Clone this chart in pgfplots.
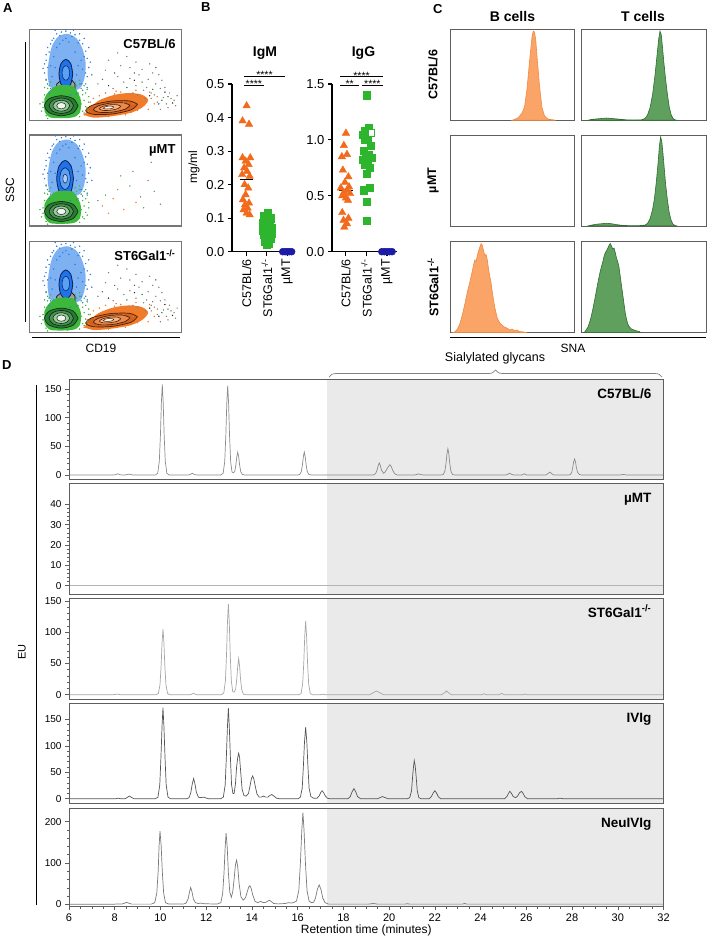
\documentclass[border=0pt]{standalone}
\usepackage{fontspec}
\setmainfont{Liberation Sans}
\usepackage{pgfplots}
\pgfplotsset{compat=1.18}
\usetikzlibrary{decorations.pathreplacing}
\newcommand{\fs}[1]{\fontsize{#1}{#1}\selectfont}
\definecolor{shade}{HTML}{EBEAEB}
\definecolor{frame}{HTML}{5E5E5E}
\definecolor{orgM}{HTML}{F26B1D}
\definecolor{grnM}{HTML}{2DB52D}
\definecolor{bluM}{HTML}{1B1BA8}
\definecolor{histO}{HTML}{FBA468}
\definecolor{histOd}{HTML}{F08A40}
\definecolor{histG}{HTML}{5FA05F}
\definecolor{histGd}{HTML}{2F6A2F}
\definecolor{cA}{HTML}{8C8C8C}
\definecolor{cB}{HTML}{B4B4B4}
\definecolor{cC}{HTML}{A6A6A6}
\definecolor{cD}{HTML}{555555}
\definecolor{cE}{HTML}{7A7A7A}
\definecolor{grnF}{HTML}{3DB83D}
\definecolor{grnC1}{HTML}{2A7A35}
\definecolor{grnC2}{HTML}{4A9452}
\definecolor{grnC3}{HTML}{9CC8A2}
\definecolor{grnC4}{HTML}{EEF6EE}
\definecolor{grnD}{HTML}{0E2E12}
\definecolor{orgF}{HTML}{F07B2B}
\definecolor{orgC1}{HTML}{D2621E}
\definecolor{orgC2}{HTML}{E98A4A}
\definecolor{orgC3}{HTML}{F5B585}
\definecolor{orgC4}{HTML}{FFF3E8}
\definecolor{orgD}{HTML}{4A2008}
\definecolor{bluF}{HTML}{7DB1F1}
\definecolor{bluDot}{HTML}{2D7DE6}
\definecolor{bluCore}{HTML}{1E72EA}
\definecolor{bluIn}{HTML}{5AA0F4}
\definecolor{bluD}{HTML}{0A1F55}
\tikzset{boxlbl/.style={anchor=base east, inner sep=0pt, xshift=-6pt, yshift=-19pt, font=\bfseries\fs{13}}}
\pgfplotsset{
  /pgf/number format/assume math mode=true,
  chrom/.style={scale only axis, anchor=north west, width=594.5pt, xmin=6, xmax=32,
    axis on top, axis line style={draw=frame, line width=1pt},
    tick style={draw=frame, line width=0.5pt}, tick align=outside, ytick pos=left,
    xtick=\empty, major tick length=4pt, minor tick length=2.5pt, minor y tick num=4,
    yticklabel style={font=\fs{10}}},
  hist/.style={scale only axis, anchor=north west, width=124.3pt, height=91pt,
    xmin=0, xmax=100, ymin=0, ymax=100, ticks=none,
    axis line style={draw=frame, line width=0.8pt}},
  flow/.style={scale only axis, anchor=north west, width=152.4pt, height=91pt,
    xmin=0, xmax=100, ymin=0, ymax=100, ticks=none, axis on top,
    axis line style={draw=frame!85, line width=1.2pt}},
  dot/.style={scale only axis, anchor=south west, clip=false, height=167.7pt,
    axis x line=bottom, axis y line=left, axis line style={-, line width=1.3pt},
    tick style={black, line width=1.1pt}, tick align=outside, major tick length=4pt,
    xtick={1,2,3}, xticklabels={C57BL/6, ST6Gal1\textsuperscript{-/-}, µMT},
    xticklabel style={rotate=90, anchor=east, font=\fs{12.5}},
    yticklabel style={font=\fs{13}, /pgf/number format/.cd, fixed, fixed zerofill, precision=1}},
}
% ---------- flow cytometry building blocks ----------
\newcommand{\blueCloud}{%
  \addplot[fill=bluF, draw=none, smooth] coordinates {(13,38)(12,52)(13,68)(15,82)(19,92)(25,95)(31,90)(35,78)(37,62)(36,45)(33,35)(25,31)(17,33)(13,38)};
  \addplot[only marks, mark=*, mark size=0.5pt, color=bluDot] coordinates {(11,45)(12,58)(11,66)(13,75)(14,84)(16,90)(18,95)(21,97)(24,98)(27,96)(30,94)(33,88)(35,84)(37,76)(38,68)(39,58)(38,48)(37,40)(35,33)(31,29)(27,28)(14,35)(12,40)(10,52)(10,62)(12,80)(15,88)(20,93)(28,92)(32,85)(36,70)(37,52)(34,40)(16,70)(18,80)(30,75)(32,60)(14,60)(26,86)(22,88)(40,64)(39,80)(9,57)(17,99)(29,99)(33,95)(41,50)(36,90)(13,30)(38,36)(15,48)(17,58)(31,50)(34,66)(20,84)(24,90)(35,56)(11,72)};
}
\newcommand{\grayStem}{%
  \addplot[fill=gray!75, draw=black, line width=0.6pt] coordinates {(18,20)(18,40)(21,44)(28,44)(30,40)(30,20)};
}
\newcommand{\greenCluster}{%
  \addplot[only marks, mark=*, mark size=0.5pt, color=grnF] coordinates {(8,10)(9,20)(10,28)(11,5)(12,35)(13,38)(14,42)(31,38)(32,30)(33,25)(34,35)(34,18)(35,10)(35,28)(36,22)(36,8)(37,15)(37,30)(38,12)(9,14)(10,36)(30,42)(33,44)(12,2)(25,3)(33,4)(16,36)(33,40)(36,38)(11,44)(39,20)(7,18)(39,26)(38,34)};
  \addplot[fill=grnF, draw=none, smooth] coordinates {(10,10)(10,24)(13,32)(18,38)(28,38)(32,30)(34,20)(33,8)(28,3)(14,3)(10,10)};
  \addplot[fill=grnC1, draw=grnD, line width=0.7pt, smooth] coordinates {(32,16)(28.8,23.8)(21,27)(13.2,23.8)(10,16)(13.2,8.2)(21,5)(28.8,8.2)(32,16)};
  \addplot[fill=grnC2, draw=grnD, line width=0.7pt, smooth] coordinates {(29,16)(26.7,22)(21,24.5)(15.3,22)(13,16)(15.3,10)(21,7.5)(26.7,10)(29,16)};
  \addplot[fill=grnC3, draw=grnD, line width=0.6pt, smooth] coordinates {(26.5,16)(24.9,20.2)(21,22)(17.1,20.2)(15.5,16)(17.1,11.8)(21,10)(24.9,11.8)(26.5,16)};
  \addplot[fill=grnC4, draw=grnD, line width=0.5pt, smooth] coordinates {(24,16)(23.1,18.5)(21,19.5)(18.9,18.5)(18,16)(18.9,13.5)(21,12.5)(23.1,13.5)(24,16)};
}
\newcommand{\orangeCluster}{%
  \addplot[fill=orgF, draw=none, smooth] coordinates {(36,6)(40,14)(46,22)(56,28)(66,30)(74,28)(78,22)(74,14)(66,8)(52,4)(42,3)(36,6)};
  \addplot[only marks, mark=*, mark size=0.5pt, color=orgF] coordinates {(36,6)(38,14)(40,20)(42,24)(44,5)(46,27)(48,22)(50,30)(52,4)(54,26)(56,29)(58,24)(60,31)(62,20)(64,27)(66,25)(68,18)(70,22)(72,28)(74,16)(76,20)(78,12)(80,24)(39,10)(43,16)(63,6)(67,9)(71,11)(75,26)(57,32)(82,18)(84,26)(79,31)(70,33)};
  \addplot[fill=orgC1, draw=orgD, line width=0.7pt, smooth] coordinates {(71,17.6)(65.7,21.3)(53.3,21)(41.2,16.5)(37,10.4)(42.3,6.5)(54.7,7)(66.8,11.5)(71,17.6)};
  \addplot[fill=orgC2, draw=orgD, line width=0.7pt, smooth] coordinates {(66,16.4)(62.1,19.2)(53.5,19)(45.2,15.8)(42,11.6)(45.9,8.8)(54.5,9)(62.9,12.2)(66,16.4)};
  \addplot[fill=orgC3, draw=orgD, line width=0.6pt, smooth] coordinates {(60,15.4)(57.7,17.1)(52.7,17)(47.9,15.1)(46,12.6)(48.3,10.9)(53.3,11)(58.2,12.9)(60,15.4)};
  \addplot[fill=orgC4, draw=orgD, line width=0.5pt, smooth] coordinates {(55.5,14.7)(54.4,15.4)(51.8,15.5)(49.5,14.6)(48.5,13.3)(49.6,12.6)(52.2,12.5)(54.6,13.3)(55.5,14.7)};
}
\newcommand{\sparseDots}{%
  \addplot[only marks, mark=*, mark size=0.45pt, color=gray] coordinates {(45,40)(50,55)(55,35)(58,48)(62,42)(66,58)(70,38)(72,50)(75,33)(78,45)(80,30)(82,28)(84,20)(86,35)(88,25)(90,18)(92,30)(95,22)(60,60)(85,50)(68,30)(77,36)(83,40)(97,27)(64,70)(70,64)(74,56)(79,62)(81,52)(87,44)(89,36)(91,14)(93,24)(96,16)(76,24)(86,12)(52,66)(58,74)(66,46)(71,28)};
  \addplot[only marks, mark=*, mark size=0.45pt, color=grnF!70!black] coordinates {(48,45)(64,36)(74,42)(81,34)(87,22)(91,26)(56,52)(69,52)(83,58)};
  \addplot[only marks, mark=*, mark size=0.45pt, color=orgD] coordinates {(52,38)(69,44)(79,27)(89,31)(94,19)(85,18)};
}
\begin{document}
\begin{tikzpicture}
\path[use as bounding box] (0,0) rectangle (708pt,-941pt);
% panel letters
\node[anchor=north west, inner sep=0, font=\bfseries\fs{13}] at (3pt,-3pt) {A};
\node[anchor=north west, inner sep=0, font=\bfseries\fs{13}] at (201pt,-2pt) {B};
\node[anchor=north west, inner sep=0, font=\bfseries\fs{13}] at (433pt,-4pt) {C};
\node[anchor=north west, inner sep=0, font=\bfseries\fs{13}] at (2pt,-360pt) {D};

% ================= Panel A =================
\begin{axis}[flow, at={(29.3pt,-29.3pt)}]
  \blueCloud
  \grayStem
  \addplot[fill=bluCore, draw=bluD, line width=0.8pt, smooth] coordinates {(28.5,51)(27.2,62.3)(24,67)(20.8,62.3)(19.5,51)(20.8,39.7)(24,35)(27.2,39.7)(28.5,51)};
  \addplot[fill=bluIn, draw=bluD, line width=0.5pt, smooth] coordinates {(26.5,52)(25.8,57.7)(24,60)(22.2,57.7)(21.5,52)(22.2,46.3)(24,44)(25.8,46.3)(26.5,52)};
  \greenCluster
  \sparseDots
  \orangeCluster
  \node[boxlbl] at (rel axis cs:1,1) {C57BL/6};
\end{axis}
\begin{axis}[flow, at={(29.3pt,-135pt)}]
  \blueCloud
  \addplot[fill=grnF, draw=black, line width=0.5pt] coordinates {(19,20)(19,36)(28,36)(28,20)};
  \addplot[fill=bluCore, draw=bluD, line width=0.8pt, smooth] coordinates {(29,52)(27.4,66.1)(23.5,72)(19.6,66.1)(18,52)(19.6,37.9)(23.5,32)(27.4,37.9)(29,52)};
  \addplot[fill=bluIn, draw=bluD, line width=0.6pt, smooth] coordinates {(27,52)(26,60.5)(23.5,64)(21,60.5)(20,52)(21,43.5)(23.5,40)(26,43.5)(27,52)};
  \addplot[fill=bluIn!50!white, draw=bluD, line width=0.5pt, smooth] coordinates {(25,52)(24.6,55.5)(23.5,57)(22.4,55.5)(22,52)(22.4,48.5)(23.5,47)(24.6,48.5)(25,52)};
  \greenCluster
  \addplot[only marks, mark=*, mark size=0.45pt, color=orgF] coordinates {(48,22)(55,30)(62,18)(70,26)(58,40)(52,14)};
  \addplot[only marks, mark=*, mark size=0.45pt, color=grnF] coordinates {(50,34)(66,44)(75,20)(82,38)(60,55)};
  \addplot[only marks, mark=*, mark size=0.45pt, color=gray] coordinates {(45,28)(73,32)(86,24)(78,50)(80,70)(68,60)};
  \node[boxlbl] at (rel axis cs:1,1) {µMT};
\end{axis}
\begin{axis}[flow, at={(29.3pt,-241.7pt)}]
  \blueCloud
  \grayStem
  \addplot[fill=bluCore, draw=bluD, line width=0.8pt, smooth] coordinates {(28.5,53)(27.2,64.3)(24,69)(20.8,64.3)(19.5,53)(20.8,41.7)(24,37)(27.2,41.7)(28.5,53)};
  \addplot[fill=bluIn, draw=bluD, line width=0.5pt, smooth] coordinates {(26.5,54)(25.8,59.7)(24,62)(22.2,59.7)(21.5,54)(22.2,48.3)(24,46)(25.8,48.3)(26.5,54)};
  \greenCluster
  \sparseDots
  \orangeCluster
  \node[boxlbl] at (rel axis cs:1,1) {ST6Gal1\textsuperscript{-/-}};
\end{axis}
\draw[line width=1pt] (25pt,-42pt) -- (25pt,-322pt);
\node[rotate=90, font=\fs{12}] at (10pt,-190pt) {SSC};
\draw[line width=1pt] (32pt,-337pt) -- (180pt,-337pt);
\node[font=\fs{12}] at (101pt,-348pt) {CD19};

% ================= Panel B =================
\begin{axis}[dot, at={(232pt,-251.7pt)}, width=63.3pt, xmin=0.28, xmax=3.4,
  ymin=0, ymax=0.5, ytick={0,0.1,0.2,0.3,0.4,0.5}]
  \addplot[only marks, mark=triangle*, mark size=4.3pt, color=orgM] coordinates {(1.0,0.435)(0.8,0.39)(1.12,0.38)(0.8,0.28)(1.18,0.28)(0.95,0.27)(1.1,0.26)(0.88,0.25)(1.02,0.24)(0.78,0.23)(1.15,0.225)(0.9,0.2)(1.08,0.19)(0.95,0.17)(0.82,0.155)(1.12,0.145)(0.92,0.14)(1.05,0.13)(0.85,0.125)(1.0,0.115)(1.15,0.11)};
  \addplot[only marks, mark=square*, mark size=3.6pt, color=grnM] coordinates {(2.05,0.115)(1.85,0.108)(2.2,0.1)(1.95,0.095)(2.15,0.09)(1.8,0.085)(2.05,0.08)(1.9,0.075)(2.25,0.072)(2.0,0.068)(1.82,0.063)(2.12,0.06)(1.95,0.057)(2.25,0.055)(1.85,0.05)(2.05,0.048)(1.9,0.045)(2.18,0.04)(2.0,0.035)(1.88,0.03)(2.1,0.025)(1.98,0.02)};
  \addplot[only marks, mark=*, mark size=3.5pt, color=bluM] coordinates {(2.78,0)(2.9,0)(3.0,0)(3.1,0)(3.22,0)};
  \addplot[black, line width=1.3pt] coordinates {(0.68,0.215)(1.32,0.215)};
  \addplot[black, line width=1.3pt] coordinates {(1.68,0.055)(2.32,0.055)};
  \draw[line width=1pt] (axis cs:0.87,0.522) -- (axis cs:2.89,0.522);
  \draw[line width=1pt] (axis cs:0.87,0.496) -- (axis cs:1.85,0.496);
  \node[anchor=base, inner sep=0, font=\fs{10.5}, yshift=-2.3pt] at (axis cs:1.88,0.522) {****};
  \node[anchor=base, inner sep=0, font=\fs{10.5}, yshift=-2.3pt] at (axis cs:1.36,0.496) {****};
\end{axis}
\node[font=\bfseries\fs{14}] at (265pt,-53pt) {IgM};
\node[rotate=90, font=\fs{12}] at (194pt,-167pt) {mg/ml};
\begin{axis}[dot, at={(332pt,-251.7pt)}, width=65.2pt, xmin=0.32, xmax=3.5,
  ymin=0, ymax=1.5, ytick={0,0.5,1,1.5}]
  \addplot[only marks, mark=triangle*, mark size=4.3pt, color=orgM] coordinates {(1.0,1.06)(0.9,0.95)(1.05,0.87)(0.8,0.85)(0.85,0.73)(1.12,0.67)(0.95,0.62)(1.15,0.58)(0.75,0.57)(1.05,0.55)(0.9,0.53)(1.2,0.52)(0.82,0.5)(1.0,0.48)(1.1,0.46)(0.82,0.35)(1.12,0.3)(0.88,0.28)(1.05,0.25)(0.92,0.22)};
  \addplot[only marks, mark=square*, mark size=3.6pt, color=grnM] coordinates {(2.0,1.4)(2.1,1.11)(1.9,1.08)(1.8,1.05)(2.05,1.02)(1.92,1.0)(2.2,0.95)(1.85,0.9)(2.1,0.87)(1.95,0.85)(2.25,0.84)(1.8,0.82)(2.05,0.8)(1.9,0.78)(2.15,0.75)(2.0,0.7)(2.15,0.57)(1.85,0.55)(2.0,0.45)(2.0,0.28)};
  \addplot[only marks, mark=square*, mark size=3.2pt, draw=grnM, fill=white, line width=1pt] coordinates {(2.25,1.06)};
  \addplot[only marks, mark=*, mark size=3.5pt, color=bluM] coordinates {(2.75,0)(2.87,0)(3.0,0)(3.12,0)(3.25,0)};
  \addplot[black, line width=1.3pt] coordinates {(0.68,0.545)(1.32,0.545)};
  \addplot[black, line width=1.3pt] coordinates {(1.68,0.85)(2.32,0.85)};
  \draw[line width=1pt] (axis cs:0.72,1.565) -- (axis cs:2.8,1.565);
  \draw[line width=1pt] (axis cs:0.72,1.49) -- (axis cs:1.65,1.49);
  \draw[line width=1pt] (axis cs:1.78,1.49) -- (axis cs:2.8,1.49);
  \node[anchor=base, inner sep=0, font=\fs{10.5}, yshift=-2.3pt] at (axis cs:1.76,1.565) {****};
  \node[anchor=base, inner sep=0, font=\fs{10.5}, yshift=-2.3pt] at (axis cs:1.18,1.49) {**};
  \node[anchor=base, inner sep=0, font=\fs{10.5}, yshift=-2.3pt] at (axis cs:2.29,1.49) {****};
\end{axis}
\node[font=\bfseries\fs{14}] at (363.5pt,-53pt) {IgG};

% ================= Panel C =================
\node[font=\bfseries\fs{14}] at (512.5pt,-16pt) {B cells};
\node[font=\bfseries\fs{14}] at (643pt,-16pt) {T cells};
\node[rotate=90, font=\bfseries\fs{12.5}] at (433pt,-74.7pt) {C57BL/6};
\node[rotate=90, font=\bfseries\fs{12.5}] at (433pt,-180.5pt) {µMT};
\node[rotate=90, font=\bfseries\fs{12.5}] at (433pt,-287.5pt) {ST6Gal1\textsuperscript{-/-}};
\begin{axis}[hist, at={(450pt,-29.3pt)}]
  \addplot[fill=histO, draw=histOd, line width=0.6pt] coordinates {(50,0)(52,1)(55,3)(58,8)(60,15)(62,35)(64,65)(66,92)(67,98)(68,97)(69,88)(70,70)(72,38)(74,14)(76,5)(78,2)(80,1)(83,0.5)(85,0)} \closedcycle;
\end{axis}
\begin{axis}[hist, at={(581.7pt,-29.3pt)}]
  \addplot[fill=histG, draw=histGd, line width=0.6pt] coordinates {(5,0)(8,1)(12,1.5)(16,2)(20,2.5)(24,2)(28,1.5)(32,1)(36,0.5)(42,0.3)(48,0.5)(51,2)(53,6)(55,14)(57,28)(59,50)(60.5,70)(62,90)(63,98)(64,94)(65,80)(66,65)(67.5,45)(69,28)(70.5,14)(72,6)(73.5,2)(75,0.5)(77,0)} \closedcycle;
\end{axis}
\begin{axis}[hist, at={(450pt,-135pt)}]
  \addplot[draw=none] coordinates {(0,0)(100,0)};
\end{axis}
\begin{axis}[hist, at={(581.7pt,-135pt)}]
  \addplot[fill=histG, draw=histGd, line width=0.6pt] coordinates {(5,0)(8,1)(12,2)(16,2.5)(20,3)(24,2.5)(28,1.5)(32,0.8)(38,0.4)(46,0.4)(51,1)(53,3)(55,8)(57,18)(58.5,30)(60,48)(61.5,70)(62.5,88)(63.5,98)(64.5,92)(65.5,78)(66.5,62)(67.5,46)(69,28)(70.5,14)(72,6)(73.5,2)(75,0.5)(77,0)} \closedcycle;
\end{axis}
\begin{axis}[hist, at={(450pt,-241.7pt)}]
  \addplot[fill=histO, draw=histOd, line width=0.6pt] coordinates {(2,0)(4,1)(6,4)(8,10)(10,20)(12,32)(14,45)(16,56)(18,68)(19,75)(20,80)(21,78)(22,85)(23,90)(24,94)(25,98)(26,96)(27,90)(28,85)(29,86)(30,80)(31,70)(32,62)(33,55)(34,45)(35,36)(36,28)(37,22)(38,16)(40,11)(42,8)(44,6)(46,5)(48,3)(50,4)(52,2)(54,3)(56,1)(58,1)(60,0.5)(62,0)} \closedcycle;
\end{axis}
\begin{axis}[hist, at={(581.7pt,-241.7pt)}]
  \addplot[fill=histG, draw=histGd, line width=0.6pt] coordinates {(2,0)(3,2)(5,6)(7,14)(9,26)(11,40)(13,55)(15,68)(17,78)(18,84)(19,88)(20,90)(21,93)(22,96)(23,98)(24,95)(25,92)(26,93)(27,88)(28,82)(29,78)(30,72)(31,62)(32,52)(33,42)(34,32)(35,22)(36,15)(37,10)(38,7)(40,4)(42,3)(44,2)(46,1.5)(47,0.5)(49,0)} \closedcycle;
\end{axis}
\draw[line width=1pt] (450pt,-337pt) -- (706pt,-337pt);
\node[font=\fs{12}] at (573pt,-348pt) {SNA};

% ================= Panel D =================
\draw[line width=1pt] (36pt,-385pt) -- (36pt,-905pt);
\node[rotate=90, font=\fs{11}] at (22pt,-652pt) {EU};
\draw[draw=gray, line width=0.7pt, decorate, decoration={brace, amplitude=7pt}] (329pt,-377pt) -- (662pt,-377pt);
\node[font=\fs{12.5}] at (495pt,-358pt) {Sialylated glycans};

\begin{axis}[chrom, at={(69pt,-379pt)}, height=100pt, ymin=-7, ymax=167.4, ytick={0,50,100,150}]
  \addplot[fill=shade, draw=none] coordinates {(17.3,-20)(32,-20)(32,400)(17.3,400)};
  \addplot[cA, line width=0.7pt] coordinates {(6,0)(7.93,0)(8.03,0.4)(8.08,1.3)(8.13,2)(8.18,1.3)(8.23,0.4)(8.33,0)(8.45,0)(8.57,1)(8.62,1.5)(8.67,1)(8.8,0)(9.78,0)(9.88,3)(9.95,24)(10.0,71)(10.04,126)(10.08,158)(10.12,126)(10.16,71)(10.21,24)(10.28,3)(10.38,0)(11.2,0)(11.29,0.6)(11.34,2)(11.39,3)(11.44,2)(11.49,0.6)(11.6,0)(12.64,0)(12.74,3)(12.81,23)(12.86,70)(12.9,125)(12.94,156)(12.98,125)(13.02,70)(13.07,23)(13.13,5)(13.19,4)(13.25,6)(13.3,18)(13.34,32)(13.38,40)(13.42,32)(13.46,18)(13.51,6)(13.58,1)(13.68,0)(16.0,0)(16.09,1)(16.16,6)(16.21,18)(16.25,32)(16.29,40)(16.33,32)(16.37,18)(16.42,6)(16.49,1)(16.6,0)(19.3,0)(19.4,2)(19.47,8)(19.52,16)(19.57,21)(19.62,16)(19.67,8)(19.76,3)(19.82,5)(19.9,10)(19.97,15)(20.04,18)(20.1,14)(20.17,7)(20.25,2)(20.35,0)(21.1,0)(21.2,0.8)(21.29,2)(21.38,0.8)(21.5,0)(22.27,0)(22.37,1)(22.44,7)(22.49,21)(22.53,37)(22.57,46)(22.61,37)(22.65,21)(22.7,7)(22.77,1)(22.87,0)(25.1,0)(25.2,1.5)(25.27,3)(25.34,1.5)(25.45,0)(25.8,0)(25.91,2)(26.02,0)(26.85,0)(26.95,2.5)(27.03,5)(27.1,2.5)(27.2,0)(27.85,0)(27.93,1)(27.99,5)(28.03,13)(28.07,23)(28.11,28)(28.15,23)(28.19,13)(28.24,5)(28.31,1)(28.41,0)(30.1,0)(30.24,1)(30.38,0)(32,0)};
  \node[anchor=base east, inner sep=0, xshift=-12pt, yshift=-19pt, font=\bfseries\fs{13.5}] at (rel axis cs:1,1) {C57BL/6};
\end{axis}

\begin{axis}[chrom, at={(69pt,-483pt)}, height=111pt, ymin=-4.1, ymax=50.5, ytick={0,10,20,30,40}]
  \addplot[fill=shade, draw=none] coordinates {(17.3,-20)(32,-20)(32,400)(17.3,400)};
  \addplot[cB, line width=0.7pt] coordinates {(6,0)(12,0)(18,0)(24,0)(32,0)};
  \node[anchor=base east, inner sep=0, xshift=-12pt, yshift=-19pt, font=\bfseries\fs{13.5}] at (rel axis cs:1,1) {µMT};
\end{axis}

\begin{axis}[chrom, at={(69pt,-598pt)}, height=101pt, ymin=-6.9, ymax=154.8, ytick={0,50,100,150}]
  \addplot[fill=shade, draw=none] coordinates {(17.3,-20)(32,-20)(32,400)(17.3,400)};
  \addplot[cC, line width=0.7pt] coordinates {(6,0)(7.95,0)(8.1,1)(8.25,0)(9.81,0)(9.91,2)(9.98,16)(10.03,47)(10.07,84)(10.11,105)(10.15,84)(10.19,47)(10.24,16)(10.31,2)(10.41,0)(11.3,0)(11.44,2)(11.58,0)(12.67,0)(12.77,3)(12.84,22)(12.89,65)(12.93,116)(12.97,145)(13.01,116)(13.05,65)(13.1,22)(13.16,5)(13.22,4)(13.29,9)(13.34,26)(13.38,46)(13.42,58)(13.46,46)(13.5,26)(13.55,9)(13.62,1)(13.72,0)(16.05,0)(16.15,2)(16.22,18)(16.27,53)(16.31,94)(16.35,118)(16.39,94)(16.43,53)(16.48,18)(16.55,2)(16.65,0)(17.0,0)(17.1,0.8)(17.2,0)(19.15,0)(19.3,3)(19.45,6)(19.6,3)(19.75,0)(22.3,0)(22.42,3)(22.51,6)(22.6,3)(22.72,0)(24.05,0)(24.15,1.5)(24.25,0)(24.8,0)(24.92,2)(25.04,0)(25.85,0)(25.94,1)(26.03,0)(32,0)};
  \node[anchor=base east, inner sep=0, xshift=-12pt, yshift=-19pt, font=\bfseries\fs{13.5}] at (rel axis cs:1,1) {ST6Gal1\textsuperscript{-/-}};
\end{axis}

\begin{axis}[chrom, at={(69pt,-703pt)}, height=100pt, ymin=-8.1, ymax=180.8, ytick={0,50,100,150}]
  \addplot[fill=shade, draw=none] coordinates {(17.3,-20)(32,-20)(32,400)(17.3,400)};
  \addplot[cD, line width=0.7pt] coordinates {(6,0)(8.05,0)(8.15,1)(8.25,0)(8.45,0)(8.55,2.5)(8.64,5)(8.73,2.5)(8.85,0)(9.78,0)(9.89,3)(9.97,26)(10.02,77)(10.07,138)(10.11,172)(10.15,138)(10.2,77)(10.25,26)(10.33,3)(10.44,0)(11.15,0)(11.25,2)(11.33,12)(11.39,28)(11.45,38)(11.51,28)(11.57,12)(11.66,3)(11.75,2)(11.9,3)(12.02,1)(12.1,0)(12.64,0)(12.75,3)(12.83,26)(12.88,77)(12.93,137)(12.97,171)(13.01,137)(13.06,77)(13.11,26)(13.17,10)(13.22,10)(13.28,28)(13.33,60)(13.38,78)(13.42,86)(13.46,78)(13.51,50)(13.57,18)(13.65,6)(13.75,5)(13.85,10)(13.92,25)(13.98,38)(14.03,43)(14.08,38)(14.14,25)(14.22,9)(14.32,3)(14.4,3)(14.5,5)(14.6,3)(14.7,3)(14.78,6)(14.87,8)(14.96,5)(15.08,1)(15.2,0)(16.02,0)(16.12,3)(16.2,20)(16.25,61)(16.3,108)(16.35,135)(16.4,108)(16.45,61)(16.5,20)(16.58,4)(16.7,1)(16.85,1)(16.95,6)(17.01,12)(17.07,15)(17.13,12)(17.2,6)(17.3,1)(17.4,0)(18.2,0)(18.3,4)(18.38,13)(18.46,19)(18.54,13)(18.62,4)(18.75,0)(19.5,0)(19.62,2.5)(19.7,4)(19.8,2.5)(19.95,0)(20.8,0)(20.9,2)(20.98,15)(21.03,43)(21.07,62)(21.1,72)(21.14,62)(21.18,43)(21.23,15)(21.3,2)(21.4,0)(21.75,0)(21.85,4)(21.93,11)(22.0,15)(22.07,11)(22.15,4)(22.25,0)(25.05,0)(25.15,4)(25.22,10)(25.28,14)(25.35,10)(25.43,4)(25.53,2)(25.62,5)(25.7,11)(25.79,14)(25.86,10)(25.93,4)(26.05,0)(27.35,0)(27.47,1)(27.6,0)(32,0)};
  \node[anchor=base east, inner sep=0, xshift=-12pt, yshift=-19pt, font=\bfseries\fs{13.5}] at (rel axis cs:1,1) {IVIg};
\end{axis}

\begin{axis}[chrom, at={(69pt,-808pt)}, height=98pt, ymin=-4.1, ymax=233, ytick={0,100,200},
  xtick={6,8,...,32}, minor x tick num=3, xtick pos=bottom,
  xticklabel style={font=\fs{11}}, xlabel={Retention time (minutes)}, xlabel style={font=\fs{12}, yshift=3pt}]
  \addplot[fill=shade, draw=none] coordinates {(17.3,-20)(32,-20)(32,400)(17.3,400)};
  \addplot[cE, line width=0.7pt] coordinates {(6,0)(7.9,0)(8.1,0.8)(8.3,0.5)(8.42,2.5)(8.52,5)(8.62,2.5)(8.75,0.5)(9.6,0.5)(9.75,4)(9.84,27)(9.9,80)(9.94,142)(9.98,177)(10.03,142)(10.08,80)(10.14,27)(10.22,4)(10.35,1)(11.0,0.5)(11.12,3)(11.21,13)(11.27,30)(11.32,41)(11.38,30)(11.44,13)(11.53,4)(11.65,2)(11.76,3)(11.9,1.5)(12.2,1)(12.5,1)(12.64,4)(12.72,26)(12.78,77)(12.83,138)(12.87,172)(12.92,138)(12.97,77)(13.03,30)(13.1,17)(13.16,30)(13.22,60)(13.28,96)(13.33,107)(13.38,90)(13.44,50)(13.52,18)(13.62,10)(13.72,16)(13.8,31)(13.86,42)(13.91,45)(13.97,38)(14.04,22)(14.14,7)(14.25,4)(14.38,7)(14.5,4)(14.62,5)(14.7,8)(14.76,10)(14.84,7)(14.95,2)(15.15,1)(15.45,2)(15.6,4)(15.72,3)(15.85,5)(15.95,8)(16.05,33)(16.12,100)(16.18,178)(16.23,222)(16.28,178)(16.34,100)(16.41,33)(16.5,8)(16.6,4)(16.7,5)(16.78,15)(16.86,36)(16.94,47)(17.02,36)(17.1,15)(17.2,4)(17.35,0.5)(19.1,0.5)(19.3,2)(19.5,0.5)(20.7,0.5)(20.8,1.5)(20.9,0.5)(23.2,0.5)(23.3,2)(23.4,0.5)(32,0.5)};
  \node[anchor=base east, inner sep=0, xshift=-12pt, yshift=-19pt, font=\bfseries\fs{13.5}] at (rel axis cs:1,1) {NeuIVIg};
\end{axis}
\end{tikzpicture}
\end{document}
